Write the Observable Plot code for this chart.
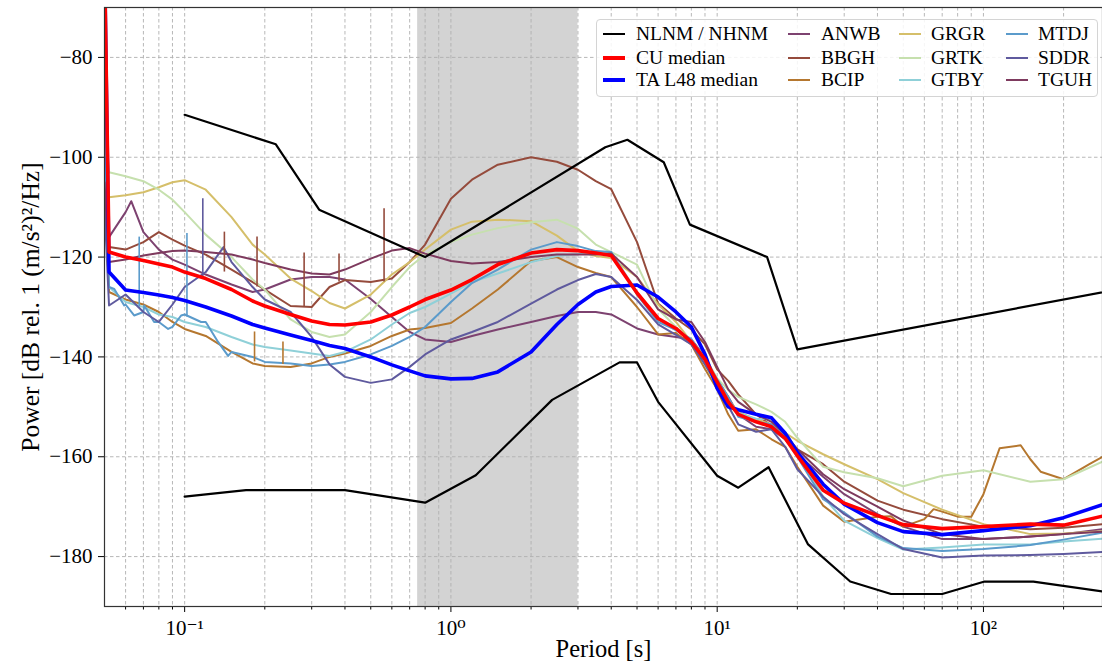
<!DOCTYPE html>
<html><head><meta charset="utf-8">
<script src="https://cdn.jsdelivr.net/npm/d3@7"></script>
<script src="https://cdn.jsdelivr.net/npm/@observablehq/plot@0.6"></script>
<style>
body{margin:0;background:#fff;}
#wrap{position:relative;width:1102px;height:664px;font-family:'Liberation Serif','Times New Roman',Times,'DejaVu Serif',serif;}
#wrap svg text{font-family:'Liberation Serif','Times New Roman',Times,'DejaVu Serif',serif;}
#legend{position:absolute;left:596px;top:19px;width:502px;height:78px;border:1px solid #d4d4d4;border-radius:4px;background:rgba(255,255,255,0.85);box-sizing:border-box;}
.item{position:absolute;font-size:19.5px;line-height:20px;white-space:nowrap;color:#000;font-family:'Liberation Serif','Times New Roman',Times,'DejaVu Serif',serif;}
.sw{position:absolute;width:22px;}
</style></head><body><div id="wrap"></div>
<script>
// ---- data ----
const periods = [0.05,0.052,0.06,0.07,0.08,0.09,0.1,0.12,0.15,0.18,0.2,0.25,0.3,0.35,0.4,0.5,0.6,0.7,0.8,1,1.2,1.5,2,2.5,3,3.5,4,5,6,7,8,9,10,11,12,14,16,18,20,25,30,40,50,70,100,150,200,280];

const cuMedian = [-60,-119,-120,-120.7,-121.4,-122,-123,-124.3,-126.5,-128.8,-129.8,-131.5,-132.8,-133.5,-133.6,-133,-131.6,-130,-128.5,-126.6,-124.5,-121.5,-119.2,-118.5,-118.7,-119.2,-119.7,-127.2,-132.3,-134.3,-137,-140.5,-145,-149,-151.5,-153,-154,-156.3,-159.8,-166.7,-169.3,-171.8,-173.6,-174.4,-174,-173.5,-173.7,-171.9];
const taMedian = [-60,-123,-126.6,-127.1,-127.6,-128.1,-128.7,-130,-131.8,-133.5,-134.2,-135.6,-136.7,-137.7,-138.3,-140,-141.6,-142.8,-143.8,-144.4,-144.3,-143,-139,-133.5,-129.5,-127,-125.9,-125.6,-128,-131,-134,-139.5,-146.3,-150,-150.6,-151.5,-152.2,-155.3,-159.1,-165.5,-169.5,-173.2,-175,-175.6,-174.8,-173.8,-172.2,-169.6];

const anwb = [-100,-116,-111,-115,-118.5,-120.5,-121.5,-123.5,-125.5,-127,-126.5,-124.5,-124,-124,-124.5,-128.4,-132,-135,-136.5,-137,-135.8,-134.5,-133,-131.8,-131,-131,-131.5,-134.3,-135.5,-136,-136.5,-140,-144.5,-148,-151.5,-154,-154.5,-156.5,-159.5,-164,-167.5,-171.5,-174,-176.5,-176.5,-176,-175.5,-174.5];
const bbgh = [-100,-118,-118.5,-117,-115,-116.5,-117.7,-119.5,-122.5,-125,-126.5,-129.8,-130,-126,-124.6,-125,-124.3,-121,-117.5,-108.3,-104.5,-101.5,-100,-100.9,-102.5,-104.8,-106.4,-117,-129.3,-132.3,-134.5,-137.5,-142.5,-144.8,-147.5,-151.5,-153.8,-156,-158.5,-161.5,-165,-168.8,-170.6,-172.5,-174,-174.5,-174.2,-173.5];
const bcip = [-105,-127,-128.5,-129.5,-131,-133,-134.4,-135.8,-139,-141.3,-141.8,-142,-141.3,-140,-139.3,-137.8,-135.8,-134.5,-134.2,-133.2,-130.3,-126.5,-120.8,-120,-122,-123.2,-124,-130,-135.5,-135.2,-137.5,-142.4,-146.5,-151.5,-154.8,-154.5,-156.5,-158,-162,-169.8,-173,-172,-174,-171,-167.5,-160.5,-164.5,-160];
const grgr = [-95,-108,-107.6,-107,-106,-105,-104.6,-106.5,-112,-117.5,-119.5,-124.3,-126.8,-129.2,-130.3,-127.5,-123.5,-121,-118.5,-114.5,-112.9,-112.5,-112.8,-115.7,-118.8,-119.8,-120.2,-124,-129.5,-133,-137,-141.5,-146,-148.5,-151,-152.5,-153.5,-155.2,-156.8,-159.5,-161.5,-164.5,-167.3,-170.6,-173.5,-175.5,-175.4,-174.9];
const grtk = [-92,-103,-103.8,-104.8,-106.5,-108.5,-111,-115.5,-120,-124.5,-126.5,-132.5,-135,-136,-135.5,-131,-126,-122,-119.5,-117,-115.5,-114.2,-113,-112.5,-114.3,-117.5,-119,-121.5,-130.4,-134,-136.8,-140,-144.3,-146.6,-148,-149.5,-151,-153,-156.2,-162,-163.1,-164.3,-165.9,-163.8,-162.7,-165,-164.5,-161];
const gtby = [-100,-126,-129,-130,-131.5,-132,-133,-134,-136,-137.5,-138,-138.7,-139.3,-139.8,-139,-136.5,-133.5,-131.2,-130,-127.3,-125,-123.3,-121,-119.8,-119.4,-119.2,-119,-127,-132.5,-134.7,-136.4,-141,-145.5,-149,-151.3,-152.4,-152.5,-155,-158.8,-168,-172.8,-176.3,-178.6,-178.2,-177.6,-177.6,-177,-176.4];
const mtdj = [-100,-126,-129.5,-131,-133,-134,-131.5,-133,-139,-140,-141,-141.3,-141.8,-141.5,-141,-139.5,-137.8,-136,-134,-129,-125.2,-122.5,-118.5,-117,-117.8,-118.8,-119,-127.5,-133,-134.6,-136.5,-140.5,-144.5,-148,-152,-153,-153.5,-156,-160,-168.5,-171.2,-176,-178.3,-178.9,-178.5,-177.7,-176.6,-175.2];
const sddr = [-110,-129.7,-127.5,-131,-133,-129.5,-126,-123,-121,-126,-128.5,-131,-136,-141.5,-144,-145.2,-144.5,-142,-139.5,-136.5,-135,-133,-129.3,-126.5,-124.6,-123.4,-124,-128.6,-133.5,-135.6,-137.5,-141.5,-145.5,-149.8,-153.5,-155,-154.5,-158,-162.5,-168,-171.5,-175.5,-178.5,-180.2,-179.8,-179.7,-179.5,-179.1];
const tguh = [-105,-121,-120.5,-119.7,-119.2,-118.8,-118.7,-119,-119.5,-120.5,-121.2,-122.5,-123.3,-123.5,-122.5,-120.3,-118.7,-118.2,-119.3,-120.8,-121.3,-121,-120,-119.5,-119.5,-119.5,-119.3,-124,-130.5,-132.5,-133,-137,-142,-146.5,-149,-151.5,-153,-155.5,-158.5,-163.5,-166.5,-170,-172.8,-175.5,-176.5,-176,-175.5,-175];

const stationNames = ["ANWB","BBGH","BCIP","GRGR","GRTK","GTBY","MTDJ","SDDR","TGUH"];
const stationColors = ["#7d4270","#954b3c","#b5772f","#d5bf6a","#c6e0ae","#8fd0d8","#5b9bcb","#5f5a9e","#7e3a5e"];
const stationValues = [anwb,bbgh,bcip,grgr,grtk,gtby,mtdj,sddr,tguh];

// extra readings off the common period grid
const extraStation = ["ANWB","SDDR","BCIP","BCIP","BCIP","BCIP","BCIP","BCIP","BCIP","BCIP","BCIP",
  "MTDJ","MTDJ","MTDJ","MTDJ","MTDJ","MTDJ","MTDJ","MTDJ","MTDJ","MTDJ"];
const extraPeriod  = [0.063,0.14,45,60,65,80,90,115,138,164,250,
  0.0544,0.0593,0.0646,0.0705,0.0768,0.0867,0.097,0.1153,0.1335,0.1456];
const extraPower   = [-108.8,-118,-171.9,-172.5,-170.5,-172,-172,-158.3,-157.7,-163,-161.5,
  -126.4,-129.7,-131.7,-129.7,-133,-134.4,-131.7,-133,-137,-139.8];

// narrow spikes
const spikeStation = ["BBGH","BBGH","BBGH","BBGH","BBGH","SDDR","MTDJ","MTDJ","BCIP","BCIP"];
const spikePeriod  = [0.141,0.187,0.281,0.380,0.561,0.117,0.0675,0.102,0.183,0.234];
const spikeLow     = [-123,-126,-130,-125,-125,-124,-130,-132,-141,-141.5];
const spikeHigh    = [-115,-116,-119.2,-119.4,-110.3,-108.3,-116,-115.3,-135,-137];

// Peterson noise models
const nlnmPeriod = [0.1,0.17,0.4,0.8,1.24,2.4,4.3,5,6,10,12,15.6,21.9,31.6,45,70,101,154,328];
const nlnmPower  = [-168.0,-166.7,-166.7,-169.2,-163.7,-148.6,-141.1,-141.1,-149.0,-163.8,-166.2,-162.1,-177.5,-185.0,-187.5,-187.5,-185.0,-185.0,-187.5];
const nhnmPeriod = [0.1,0.22,0.32,0.8,3.8,4.6,6.3,7.9,15.4,20,354.8];
const nhnmPower  = [-91.5,-97.4,-110.5,-120.0,-98.0,-96.5,-101.0,-113.5,-120.0,-138.5,-126.0];

const bandStart = 0.75, bandEnd = 3;
const xMajor = [0.1,1,10,100];
const xMajorLabels = ["10⁻¹","10⁰","10¹","10²"];
const yTicks = [-180,-160,-140,-120,-100,-80];

// ---- build tables ----
const stationRows = [];
stationNames.forEach((s,i) => {
  const r = periods.map((p,j) => ({station:s, period:p, power:stationValues[i][j]}));
  extraStation.forEach((es,k) => { if (es === s) r.push({station:s, period:extraPeriod[k], power:extraPower[k]}); });
  r.sort((a,b) => a.period - b.period);
  stationRows.push(...r);
});
const spikeRows = spikeStation.map((s,i) => ({station:s, period:spikePeriod[i], low:spikeLow[i], high:spikeHigh[i]}));
const cuRows = periods.map((p,i) => ({period:p, power:cuMedian[i]}));
const taRows = periods.map((p,i) => ({period:p, power:taMedian[i]}));
const nlnmRows = nlnmPeriod.map((p,i) => ({period:p, power:nlnmPower[i]}));
const nhnmRows = nhnmPeriod.map((p,i) => ({period:p, power:nhnmPower[i]}));
const minorX = [];
[0.01,0.1,1,10,100].forEach(d => { for (let k=2;k<=9;k++){ const v=+(d*k).toPrecision(3); if (v>0.05 && v<280) minorX.push(v);} });
const fmtX = d => xMajorLabels[xMajor.findIndex(v => Math.abs(v-d) < 1e-9)] ?? "";

const gridStyle = {stroke:"#b0b0b0", strokeOpacity:1, strokeWidth:0.9, strokeDasharray:"3.5,2.5"};
const serif = "'Liberation Serif','Times New Roman',Times,'DejaVu Serif',serif";

const chart = Plot.plot({
  width:1102, height:664,
  marginLeft:104, marginRight:0, marginTop:7, marginBottom:58,
  style:{fontFamily:serif, fontSize:"21px", background:"white", color:"black"},
  x:{type:"log", domain:[0.05,280]},
  y:{domain:[-190,-70]},
  color:{domain:stationNames, range:stationColors},
  marks:[
    Plot.rect([{a:bandStart,b:bandEnd}], {x1:"a", x2:"b", fill:"#d3d3d3"}),
    Plot.gridX(minorX, gridStyle),
    Plot.gridX(xMajor, gridStyle),
    Plot.gridY(yTicks, gridStyle),
    Plot.line(stationRows, {x:"period", y:"power", z:"station", stroke:"station", strokeWidth:2, clip:true}),
    Plot.ruleX(spikeRows, {x:"period", y1:"low", y2:"high", stroke:"station", strokeWidth:1.6, clip:true}),
    Plot.line(nlnmRows, {x:"period", y:"power", stroke:"black", strokeWidth:2.2, clip:true}),
    Plot.line(nhnmRows, {x:"period", y:"power", stroke:"black", strokeWidth:2.2, clip:true}),
    Plot.line(taRows, {x:"period", y:"power", stroke:"#0000ff", strokeWidth:3.6, clip:true}),
    Plot.line(cuRows, {x:"period", y:"power", stroke:"#ff0000", strokeWidth:3.6, clip:true}),
    Plot.axisX({ticks:minorX, tickFormat:()=>"", tickSize:3.5, label:null}),
    Plot.axisX({ticks:xMajor, tickFormat:fmtX, tickSize:6, tickPadding:8, fontSize:21, label:"Period [s]", labelAnchor:"center", labelOffset:50, labelArrow:"none"}),
    Plot.axisY({ticks:yTicks, tickFormat:d => "−" + Math.abs(d), tickSize:6, tickPadding:6, fontSize:21, label:"Power [dB rel. 1 (m/s²)²/Hz]", labelAnchor:"center", labelOffset:84, labelArrow:"none"}),
    Plot.frame({stroke:"#333", strokeWidth:1.2})
  ]
});
const wrap = document.getElementById("wrap");
wrap.appendChild(chart);
chart.querySelectorAll("g[aria-label='x-axis label'] text").forEach(t => t.setAttribute("font-size","24.5"));
chart.querySelectorAll("g[aria-label='y-axis label'] text").forEach(t => t.setAttribute("font-size","25.5"));

// ---- legend ----
const legendNames = ["NLNM / NHNM","CU median","TA L48 median",...stationNames];
const legendColors = ["#000000","#ff0000","#0000ff",...stationColors];
const legendWidths = [2.2,3.6,3.6,2,2,2,2,2,2,2,2,2];
const colSwatch = [6,191,302,409], colText = [39,224,334,441], rowY = [14,38,60];
const lg = document.createElement("div"); lg.id = "legend";
legendNames.forEach((n,i) => {
  const c = Math.floor(i/3), r = i%3;
  const sw = document.createElement("div"); sw.className = "sw";
  sw.style.left = colSwatch[c]+"px"; sw.style.top = (rowY[r]-legendWidths[i]/2)+"px";
  sw.style.height = legendWidths[i]+"px"; sw.style.background = legendColors[i];
  const t = document.createElement("div"); t.className = "item";
  t.style.left = colText[c]+"px"; t.style.top = (rowY[r]-10)+"px"; t.textContent = n;
  lg.appendChild(sw); lg.appendChild(t);
});
wrap.appendChild(lg);
</script></body></html>
